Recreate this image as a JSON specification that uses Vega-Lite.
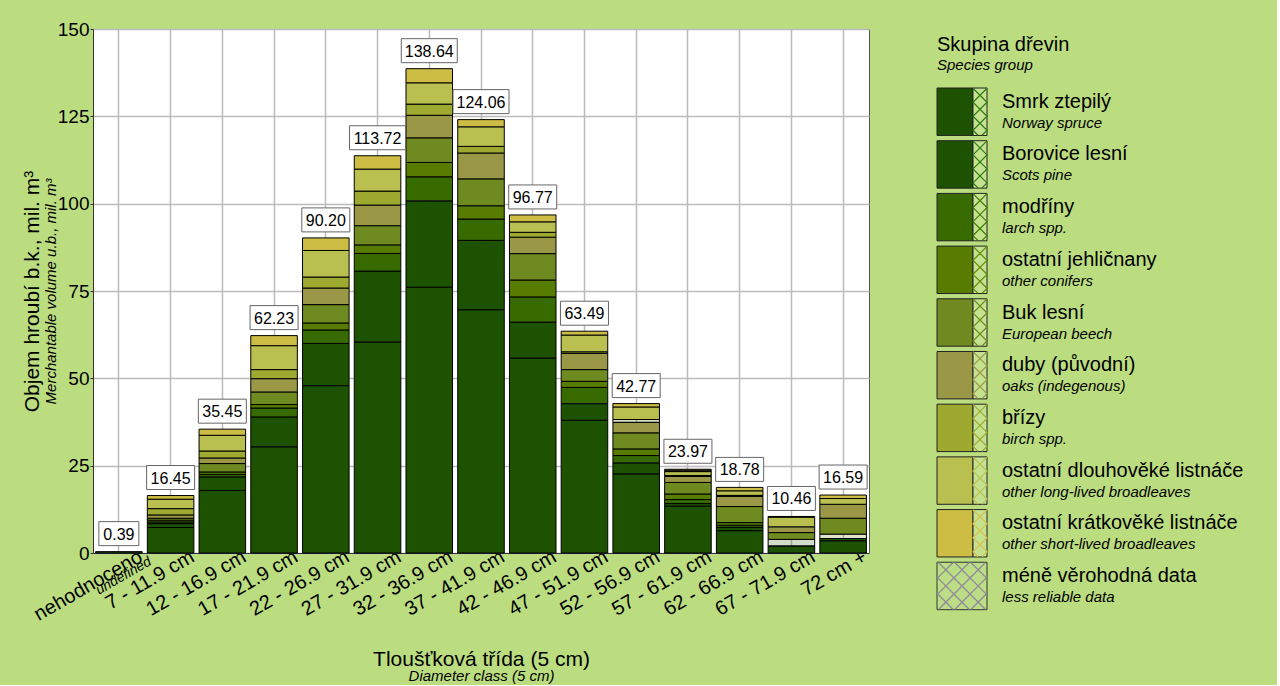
{
  "$schema": "https://vega.github.io/schema/vega-lite/v6.json",
  "background": "#bbdd80",
  "padding": {"left": 20, "top": 19, "right": 0, "bottom": 0},
  "bounds": "flush",
  "spacing": 68,
  "datasets": {
    "objem": [
      {"trida": "nehodnoceno", "Smrk ztepilý": 0.39},
      {"trida": "7 - 11.9 cm", "Smrk ztepilý": 7.3, "Borovice lesní": 1.1, "modříny": 0.5, "ostatní jehličnany": 0.5, "Buk lesní": 0.55, "duby (původní)": 0.95, "břízy": 1.8, "ostatní dlouhověké listnáče": 2.7, "ostatní krátkověké listnáče": 1.05},
      {"trida": "12 - 16.9 cm", "Smrk ztepilý": 17.9, "Borovice lesní": 3.9, "modříny": 0.7, "ostatní jehličnany": 0.7, "Buk lesní": 2.4, "duby (původní)": 1.6, "břízy": 2.0, "ostatní dlouhověké listnáče": 4.5, "ostatní krátkověké listnáče": 1.75},
      {"trida": "17 - 21.9 cm", "Smrk ztepilý": 30.4, "Borovice lesní": 8.55, "modříny": 2.55, "ostatní jehličnany": 1.0, "Buk lesní": 3.6, "duby (původní)": 3.8, "břízy": 2.6, "ostatní dlouhověké listnáče": 6.85, "ostatní krátkověké listnáče": 2.88},
      {"trida": "22 - 26.9 cm", "Smrk ztepilý": 47.9, "Borovice lesní": 12.1, "modříny": 3.85, "ostatní jehličnany": 2.0, "Buk lesní": 5.25, "duby (původní)": 4.75, "břízy": 3.15, "ostatní dlouhověké listnáče": 7.6, "ostatní krátkověké listnáče": 3.6},
      {"trida": "27 - 31.9 cm", "Smrk ztepilý": 60.4, "Borovice lesní": 20.3, "modříny": 5.05, "ostatní jehličnany": 2.45, "Buk lesní": 5.5, "duby (původní)": 5.9, "břízy": 4.0, "ostatní dlouhověké listnáče": 6.3, "ostatní krátkověké listnáče": 3.82},
      {"trida": "32 - 36.9 cm", "Smrk ztepilý": 76.1, "Borovice lesní": 24.7, "modříny": 6.9, "ostatní jehličnany": 4.1, "Buk lesní": 7.05, "duby (původní)": 6.45, "břízy": 3.2, "ostatní dlouhověké listnáče": 6.1, "ostatní krátkověké listnáče": 4.04},
      {"trida": "37 - 41.9 cm", "Smrk ztepilý": 69.65, "Borovice lesní": 19.85, "modříny": 6.1, "ostatní jehličnany": 3.8, "Buk lesní": 7.7, "duby (původní)": 7.4, "břízy": 1.9, "ostatní dlouhověké listnáče": 5.6, "ostatní krátkověké listnáče": 2.06},
      {"trida": "42 - 46.9 cm", "Smrk ztepilý": 55.8, "Borovice lesní": 10.3, "modříny": 7.2, "ostatní jehličnany": 4.85, "Buk lesní": 7.55, "duby (původní)": 4.7, "břízy": 1.4, "ostatní dlouhověké listnáče": 3.0, "ostatní krátkověké listnáče": 1.97},
      {"trida": "47 - 51.9 cm", "Smrk ztepilý": 38.0, "Borovice lesní": 4.75, "modříny": 4.65, "ostatní jehličnany": 1.75, "Buk lesní": 3.35, "duby (původní)": 4.65, "břízy": 0.45, "ostatní dlouhověké listnáče": 4.8, "ostatní krátkověké listnáče": 1.09},
      {"trida": "52 - 56.9 cm", "Smrk ztepilý": 22.65, "Borovice lesní": 3.15, "modříny": 2.1, "ostatní jehličnany": 1.9, "Buk lesní": 4.6, "duby (původní)": 3.0, "břízy|ne": 0.8, "ostatní dlouhověké listnáče": 3.6, "ostatní krátkověké listnáče": 0.97},
      {"trida": "57 - 61.9 cm", "Smrk ztepilý": 13.4, "Borovice lesní": 0.75, "modříny": 1.15, "ostatní jehličnany": 1.6, "Buk lesní": 3.3, "duby (původní)": 1.7, "břízy": 0.3, "ostatní dlouhověké listnáče": 1.1, "ostatní dlouhověké listnáče|ne": 0.4, "ostatní krátkověké listnáče": 0.27},
      {"trida": "62 - 66.9 cm", "Smrk ztepilý": 6.4, "Borovice lesní": 0.95, "modříny": 0.6, "ostatní jehličnany": 0.75, "Buk lesní": 4.6, "duby (původní)": 2.9, "břízy": 0.3, "ostatní dlouhověké listnáče": 1.3, "ostatní krátkověké listnáče": 0.98},
      {"trida": "67 - 71.9 cm", "Smrk ztepilý": 2.0, "Borovice lesní|ne": 1.9, "Buk lesní": 1.95, "duby (původní)": 1.65, "ostatní dlouhověké listnáče": 2.75, "ostatní krátkověké listnáče": 0.21},
      {"trida": "72 cm +", "Smrk ztepilý": 3.5, "Borovice lesní": 0.65, "ostatní jehličnany|ne": 1.25, "Buk lesní": 4.55, "duby (původní)": 4.0, "ostatní dlouhověké listnáče": 1.65, "ostatní krátkověké listnáče": 0.99}
    ],
    "legenda": [
      {"cz": "Skupina dřevin", "en": "Species group", "typ": "nadpis"},
      {"cz": "Smrk ztepilý", "en": "Norway spruce", "typ": "druh"},
      {"cz": "Borovice lesní", "en": "Scots pine", "typ": "druh"},
      {"cz": "modříny", "en": "larch spp.", "typ": "druh"},
      {"cz": "ostatní jehličnany", "en": "other conifers", "typ": "druh"},
      {"cz": "Buk lesní", "en": "European beech", "typ": "druh"},
      {"cz": "duby (původní)", "en": "oaks (indegenous)", "typ": "druh"},
      {"cz": "břízy", "en": "birch spp.", "typ": "druh"},
      {"cz": "ostatní dlouhověké listnáče", "en": "other long-lived broadleaves", "typ": "druh"},
      {"cz": "ostatní krátkověké listnáče", "en": "other short-lived broadleaves", "typ": "druh"},
      {"cz": "méně věrohodná data", "en": "less reliable data", "typ": "mene"}
    ]
  },
  "hconcat": [
    {
      "width": 776,
      "height": 524,
      "data": {"name": "objem"},
      "transform": [
        {"fold": ["Smrk ztepilý", "Borovice lesní", "Borovice lesní|ne", "modříny", "ostatní jehličnany", "ostatní jehličnany|ne", "Buk lesní", "duby (původní)", "břízy", "břízy|ne", "ostatní dlouhověké listnáče", "ostatní dlouhověké listnáče|ne", "ostatní krátkověké listnáče"], "as": ["klic", "objem"]},
        {"filter": "isValid(datum.objem) && datum.objem > 0"},
        {"calculate": "split(datum.klic, '|')[0]", "as": "drevina"},
        {"calculate": "indexof(datum.klic, '|ne') >= 0 ? 'ne' : 'ano'", "as": "spolehlivost"}
      ],
      "layer": [
        {
          "transform": [
            {"calculate": "indexof(['Smrk ztepilý','Borovice lesní','modříny','ostatní jehličnany','Buk lesní','duby (původní)','břízy','ostatní dlouhověké listnáče','ostatní krátkověké listnáče'], datum.drevina) * 2 + (datum.spolehlivost == 'ne' ? 1 : 0)", "as": "poradi"}
          ],
          "mark": {"type": "bar", "stroke": "black", "strokeWidth": 1},
          "encoding": {
            "x": {
              "field": "trida", "type": "nominal", "sort": null,
              "scale": {"domain": ["nehodnoceno", "7 - 11.9 cm", "12 - 16.9 cm", "17 - 21.9 cm", "22 - 26.9 cm", "27 - 31.9 cm", "32 - 36.9 cm", "37 - 41.9 cm", "42 - 46.9 cm", "47 - 51.9 cm", "52 - 56.9 cm", "57 - 61.9 cm", "62 - 66.9 cm", "67 - 71.9 cm", "72 cm +"], "paddingInner": 0.1, "paddingOuter": 0.05},
              "axis": {"title": "Tloušťková třída (5 cm)", "titleFontSize": 21, "titleFontWeight": "normal", "titlePadding": 24, "labelAngle": -30, "labelBaseline": "middle", "labelAlign": "right", "labelOffset": 22, "labelFontSize": 20, "labelOverlap": false, "ticks": false, "labelPadding": 2, "grid": true, "gridColor": "#bbbbbb", "gridWidth": 1.5, "bandPosition": 0.5, "domainColor": "#333333"}
            },
            "y": {
              "aggregate": "sum", "field": "objem", "type": "quantitative", "stack": "zero",
              "scale": {"domain": [0, 150], "nice": false},
              "axis": {"title": "Objem hroubí b.k., mil. m³", "titleFontSize": 21, "titleFontWeight": "normal", "titlePadding": 15, "values": [0, 25, 50, 75, 100, 125, 150], "labelFontSize": 19, "tickSize": 3, "tickColor": "#333333", "labelPadding": 1, "gridColor": "#bbbbbb", "gridWidth": 1.5, "domainColor": "#333333"}
            },
            "color": {
              "field": "drevina", "type": "nominal", "legend": null,
              "scale": {"domain": ["Smrk ztepilý", "Borovice lesní", "modříny", "ostatní jehličnany", "Buk lesní", "duby (původní)", "břízy", "ostatní dlouhověké listnáče", "ostatní krátkověké listnáče"], "range": ["#1c5200", "#1c5200", "#376b00", "#577c00", "#6f8a20", "#9a9846", "#9ea92f", "#b9c050", "#cdbd44"]}
            },
            "fillOpacity": {"condition": {"test": "datum.spolehlivost == 'ne'", "value": 0.2}, "value": 1},
            "order": {"field": "poradi", "type": "quantitative"},
            "detail": {"field": "spolehlivost"}
          }
        },
        {
          "transform": [
            {"aggregate": [{"op": "sum", "field": "objem", "as": "soucet"}], "groupby": ["trida"]},
            {"calculate": "format(datum.soucet, '.2f')", "as": "popisek"},
            {"calculate": "length(datum.popisek)", "as": "delka"}
          ],
          "mark": {"type": "point", "filled": true, "fill": "white", "stroke": "#666666", "strokeWidth": 1, "opacity": 1, "yOffset": -18},
          "encoding": {
            "x": {
              "field": "trida", "type": "nominal", "sort": null,
              "axis": {"orient": "bottom", "title": "Diameter class (5 cm)", "titleFontSize": 15, "titleFontStyle": "italic", "titleFontWeight": "normal", "titlePadding": 72, "labelExpr": "datum.value == 'nehodnoceno' ? 'undefined' : ''", "labelFontSize": 14, "labelFontStyle": "italic", "labelAngle": -30, "labelOffset": 28, "labelPadding": 1, "labelOverlap": false, "ticks": false, "domain": false, "grid": false}
            },
            "y": {
              "field": "soucet", "type": "quantitative",
              "axis": {"orient": "left", "title": "Merchantable volume u.b., mil. m³", "titleFontSize": 15, "titleFontStyle": "italic", "titleFontWeight": "normal", "titlePadding": 35, "labels": false, "ticks": false, "domain": false, "grid": false}
            },
            "shape": {"condition": [{"test": "datum.delka <= 4", "value": "M-1,-0.6H1V0.6H-1Z"}, {"test": "datum.delka == 5", "value": "M-1,-0.5H1V0.5H-1Z"}], "value": "M-1,-0.4286H1V0.4286H-1Z"},
            "size": {"condition": [{"test": "datum.delka <= 4", "value": 1600}, {"test": "datum.delka == 5", "value": 2304}], "value": 3136}
          }
        },
        {
          "transform": [
            {"aggregate": [{"op": "sum", "field": "objem", "as": "soucet"}], "groupby": ["trida"]},
            {"calculate": "format(datum.soucet, '.2f')", "as": "popisek"}
          ],
          "mark": {"type": "text", "fontSize": 16, "yOffset": -17, "baseline": "middle", "color": "black"},
          "encoding": {
            "x": {"field": "trida", "type": "nominal", "sort": null, "axis": null},
            "y": {"field": "soucet", "type": "quantitative", "axis": null},
            "text": {"field": "popisek"}
          }
        }
      ],
      "resolve": {"axis": {"x": "independent", "y": "independent"}}
    },
    {
      "width": 340,
      "height": 587,
      "view": {"stroke": null, "fill": null},
      "data": {"name": "legenda"},
      "encoding": {
        "y": {"field": "cz", "type": "nominal", "sort": null, "axis": null, "scale": {"domain": ["Skupina dřevin", "Smrk ztepilý", "Borovice lesní", "modříny", "ostatní jehličnany", "Buk lesní", "duby (původní)", "břízy", "ostatní dlouhověké listnáče", "ostatní krátkověké listnáče", "méně věrohodná data"], "paddingInner": 0.1, "paddingOuter": 0.12}}
      },
      "layer": [
        {
          "transform": [{"filter": "datum.typ == 'druh'"}],
          "mark": {"type": "rect", "stroke": "#222222", "strokeWidth": 1},
          "encoding": {
            "x": {"datum": 0, "type": "quantitative", "scale": {"domain": [0, 340], "nice": false, "zero": false}, "axis": null},
            "x2": {"datum": 36},
            "fill": {"field": "cz", "type": "nominal", "legend": null, "scale": {"domain": ["Smrk ztepilý", "Borovice lesní", "modříny", "ostatní jehličnany", "Buk lesní", "duby (původní)", "břízy", "ostatní dlouhověké listnáče", "ostatní krátkověké listnáče"], "range": ["#1c5200", "#1c5200", "#376b00", "#577c00", "#6f8a20", "#9a9846", "#9ea92f", "#b9c050", "#cdbd44"]}}
          }
        },
        {
          "transform": [{"filter": "datum.typ == 'druh'"}],
          "mark": {"type": "rect", "fill": "#c4e290", "stroke": "#222222", "strokeWidth": 1},
          "encoding": {
            "x": {"datum": 36, "type": "quantitative"},
            "x2": {"datum": 50}
          }
        },
        {
          "transform": [{"filter": "datum.typ == 'mene'"}],
          "mark": {"type": "rect", "fill": "#bcdc86", "stroke": "#333333", "strokeWidth": 1},
          "encoding": {
            "x": {"datum": 0, "type": "quantitative"},
            "x2": {"datum": 50}
          }
        },
        {
          "transform": [{"filter": "datum.typ == 'druh'"}],
          "mark": {"type": "point", "filled": false, "opacity": 1, "strokeWidth": 1.2, "size": 2209, "shape": "M-0.298,-1L0.298,-0.404L-0.298,0.192L0.298,0.787L0.085,1M0.298,-1L-0.298,-0.404L0.298,0.192L-0.298,0.787L-0.085,1"},
          "encoding": {
            "x": {"datum": 43, "type": "quantitative"},
            "stroke": {"field": "cz", "type": "nominal", "legend": null, "scale": {"domain": ["Smrk ztepilý", "Borovice lesní", "modříny", "ostatní jehličnany", "Buk lesní", "duby (původní)", "břízy", "ostatní dlouhověké listnáče", "ostatní krátkověké listnáče"], "range": ["#2e7a10", "#2e7a10", "#3f7a00", "#5f8a00", "#6f8a20", "#9a9846", "#9ea92f", "#b9c050", "#d8c050"]}}
          }
        },
        {
          "transform": [{"filter": "datum.typ == 'mene'"}],
          "mark": {"type": "point", "filled": false, "opacity": 1, "strokeWidth": 1.2, "size": 2209, "stroke": "#8a8a9a", "shape": "M-1,-1L1,1M-0.312,-1L1.064,0.376M0.376,-1L1.064,-0.312M-1.064,-0.376L0.312,1M-1.064,0.312L-0.376,1M1,-1L-1,1M1.064,-0.376L-0.312,1M1.064,0.312L0.376,1M0.312,-1L-1.064,0.376M-0.376,-1L-1.064,-0.312"},
          "encoding": {
            "x": {"datum": 25, "type": "quantitative"}
          }
        },
        {
          "transform": [{"filter": "datum.typ != 'nadpis'"}],
          "mark": {"type": "text", "align": "left", "baseline": "middle", "fontSize": 20, "yOffset": -10, "color": "black"},
          "encoding": {
            "x": {"datum": 65, "type": "quantitative"},
            "text": {"field": "cz"}
          }
        },
        {
          "transform": [{"filter": "datum.typ != 'nadpis'"}],
          "mark": {"type": "text", "align": "left", "baseline": "middle", "fontSize": 15, "fontStyle": "italic", "yOffset": 11, "color": "black"},
          "encoding": {
            "x": {"datum": 65, "type": "quantitative"},
            "text": {"field": "en"}
          }
        },
        {
          "transform": [{"filter": "datum.typ == 'nadpis'"}],
          "mark": {"type": "text", "align": "left", "baseline": "middle", "fontSize": 20, "yOffset": -14, "color": "black"},
          "encoding": {
            "x": {"datum": 0, "type": "quantitative"},
            "text": {"field": "cz"}
          }
        },
        {
          "transform": [{"filter": "datum.typ == 'nadpis'"}],
          "mark": {"type": "text", "align": "left", "baseline": "middle", "fontSize": 15, "fontStyle": "italic", "yOffset": 6, "color": "black"},
          "encoding": {
            "x": {"datum": 0, "type": "quantitative"},
            "text": {"field": "en"}
          }
        }
      ]
    }
  ],
  "config": {
    "font": "Liberation Sans",
    "view": {"fill": "white", "stroke": "#555555", "strokeWidth": 1},
    "axis": {"labelColor": "black", "titleColor": "black", "labelFont": "Liberation Sans", "titleFont": "Liberation Sans"}
  }
}
